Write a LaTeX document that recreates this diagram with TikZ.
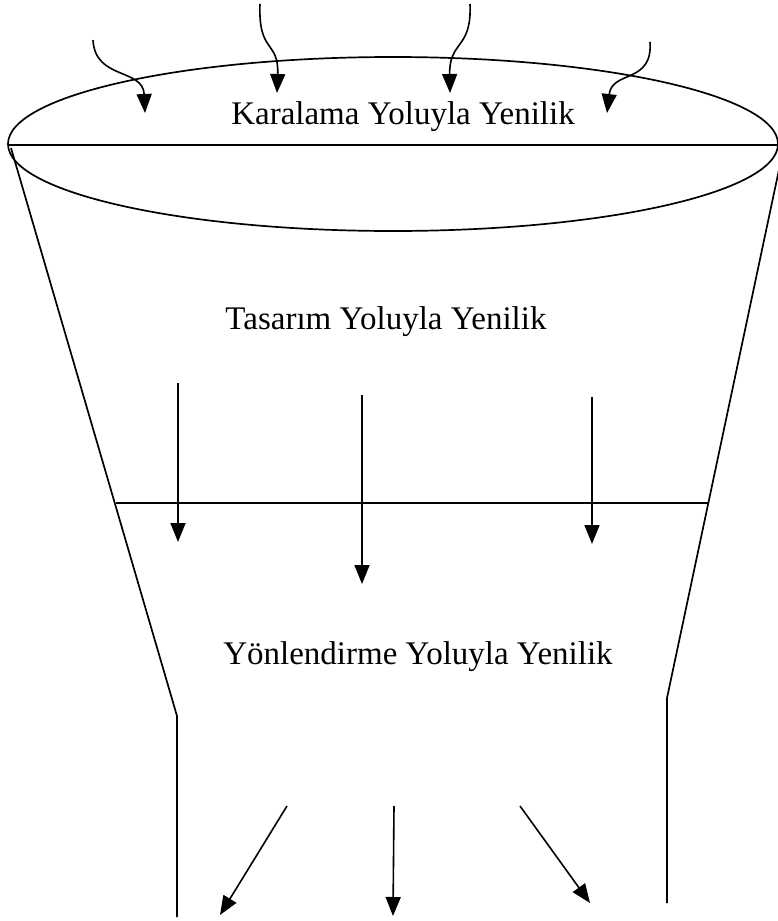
\documentclass[tikz,border=0pt]{standalone}
\usepackage{fontspec}
\setmainfont{Liberation Serif}
\usetikzlibrary{arrows.meta}
\tikzset{
  outline/.style={line width=1.7pt, black},
  flow/.style={line width=1.6pt, -{Triangle[length=19pt,width=15pt]}},
  label/.style={anchor=base, inner sep=0pt, font=\fontsize{33}{38}\selectfont}
}
\begin{document}
\begin{tikzpicture}[x=1pt,y=-1pt]
\useasboundingbox (0,0) rectangle (777,921);
% funnel top
\draw[outline] (393,144) ellipse [x radius=385pt, y radius=87pt];
\coordinate (lt) at (8,145);
\coordinate (rt) at (778,145);
\draw[outline] (lt) -- (rt);
% funnel sides
\coordinate (ls) at (11,148);
\coordinate (lb) at (177,716);
\coordinate (le) at (177,917);
\coordinate (rs) at (784,146);
\coordinate (rb) at (667,698);
\coordinate (re) at (667,903);
\draw[outline] (ls) -- (lb) -- (le);
\draw[outline] (rs) -- (rb) -- (re);
% middle separating line
\coordinate (ml) at (116,503);
\coordinate (mr) at (708,503);
\draw[line width=1.4pt] (ml) -- (mr);
% labels
\node[label] (k) at (403,124) {Karalama Yoluyla Yenilik};
\node[label] (t) at (386,329) {Tasarım Yoluyla Yenilik};
\node[label] (y) at (418,664) {Yönlendirme Yoluyla Yenilik};
% top curved arrows
\coordinate (a1s) at (93,40);   \coordinate (a1e) at (145,113);
\coordinate (a2s) at (260,4);   \coordinate (a2e) at (277,93);
\coordinate (a3s) at (470,4);   \coordinate (a3e) at (450,93);
\coordinate (a4s) at (650,42);  \coordinate (a4e) at (607,113);
\draw[flow] (a1s) .. controls (95,80) and (143,68) .. (a1e);
\draw[flow] (a2s) .. controls (258,54) and (279,40) .. (a2e);
\draw[flow] (a3s) .. controls (472,50) and (449,40) .. (a3e);
\draw[flow] (a4s) .. controls (653,84) and (612,70) .. (a4e);
% middle arrows
\coordinate (m1s) at (178,383); \coordinate (m1e) at (178,542);
\coordinate (m2s) at (362,395); \coordinate (m2e) at (362,584);
\coordinate (m3s) at (592,397); \coordinate (m3e) at (592,544);
\draw[flow] (m1s) -- (m1e);
\draw[flow] (m2s) -- (m2e);
\draw[flow] (m3s) -- (m3e);
% bottom arrows
\coordinate (b1s) at (287,806); \coordinate (b1e) at (220,915);
\coordinate (b2s) at (394,806); \coordinate (b2e) at (393,916);
\coordinate (b3s) at (520,806); \coordinate (b3e) at (590,903);
\draw[flow] (b1s) -- (b1e);
\draw[flow] (b2s) -- (b2e);
\draw[flow] (b3s) -- (b3e);
\end{tikzpicture}
\end{document}
